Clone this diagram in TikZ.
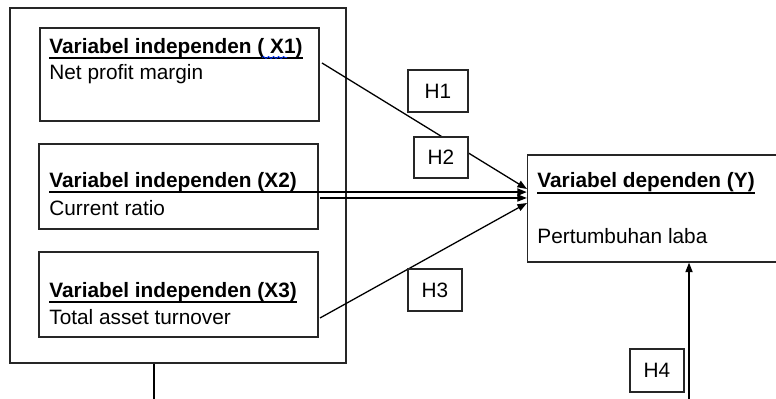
\documentclass[tikz,border=0pt]{standalone}
\usepackage{fontspec}
\setmainfont{Liberation Sans}
\usetikzlibrary{arrows.meta,positioning,calc,decorations.pathmorphing}
\tikzset{
  box/.style={draw=black!85,rectangle,line width=0.65pt,inner sep=0pt},
  varbox/.style={box,minimum width=139.5pt,minimum height=42.5pt},
  hbox/.style={box,fill=white,minimum width=27pt,minimum height=21pt,font=\fontsize{10.4}{12}\selectfont},
  txt/.style={anchor=base west,inner sep=0pt,font=\fontsize{10.4}{12}\selectfont},
  ttl/.style={txt,font=\fontsize{10.4}{12}\selectfont\bfseries},
  uline/.style={line width=0.9pt},
  arr/.style={-{Triangle[length=4.8pt,width=3.6pt]},line width=0.65pt},
  tharr/.style={arr,line width=1pt}
}
\begin{document}
\begin{tikzpicture}[x=0.5pt,y=-0.5pt]
  \useasboundingbox (0,0) rectangle (776,399);
  % boxes
  \node[box, minimum width=168pt, minimum height=177.5pt] (outer) at (178,185.5) {};
  \node[varbox, minimum height=46.5pt] (x1) at (179.5,74.5) {};
  \node[varbox] (x2) at (178.5,186.5) {};
  \node[varbox] (x3) at (178.5,294.5) {};
  \node[box, minimum width=126pt, minimum height=53.5pt] (y) at (653.5,208.5) {};

  % texts
  \node[ttl] (tx1) at (49,53.5) {Variabel independen ( X1)};
  \node[txt] (nx1) at (49,79.5) {Net profit margin};
  \node[ttl] (tx2) at (49,187.5) {Variabel independen (X2)};
  \node[txt] (nx2) at (49,215.5) {Current ratio};
  \node[ttl] (tx3) at (49,297.5) {Variabel independen (X3)};
  \node[txt] (nx3) at (49,324.5) {Total asset turnover};
  \node[ttl] (ty) at (537,187.5) {Variabel dependen (Y)};
  \node[txt] (ny) at (537,243.5) {Pertumbuhan laba};

  \draw[uline] ([yshift=-2.1pt]tx1.base west) -- ([yshift=-2.1pt]tx1.base east);
  \draw[uline] ([yshift=-2.1pt]tx3.base west) -- ([yshift=-2.1pt]tx3.base east);
  \draw[uline] ([yshift=-2.6pt]ty.base west) -- ([yshift=-2.6pt]ty.base east);
  \draw[blue!80!cyan,line width=0.4pt,decorate,decoration={snake,amplitude=0.5pt,segment length=2.5pt}] (262,57.5) -- (287,57.5);

  % end points
  \coordinate (s1) at (322,63);
  \coordinate (e1) at (527,189);
  \coordinate (s2) at (320,198);
  \coordinate (s3) at (320,318);
  \coordinate (e3) at (527,203);
  \coordinate (b0) at (154,399);
  \coordinate (b4) at (689,399);

  % connectors
  \draw[arr] (s1) -- (e1);
  \draw[tharr] ([yshift=-2.3pt]tx2.base west) -- ([yshift=-2.3pt]tx2.base -| y.west);
  \draw[arr] (s2) -- (s2 -| y.west);
  \draw[arr] (s3) -- (e3);
  \draw[arr] (b4) -- (b4 |- y.south);
  \draw[line width=0.65pt] (outer.south -| b0) -- (b0);

  % hypotheses
  \node[hbox, minimum width=30pt] (h1) at (438,91) {H1};
  \node[hbox, minimum height=20.5pt] (h2) at (441,157.5) {H2};
  \node[hbox] (h3) at (435,290) {H3};
  \node[hbox, minimum height=21.5pt] (h4) at (657,370.5) {H4};
\end{tikzpicture}
\end{document}
